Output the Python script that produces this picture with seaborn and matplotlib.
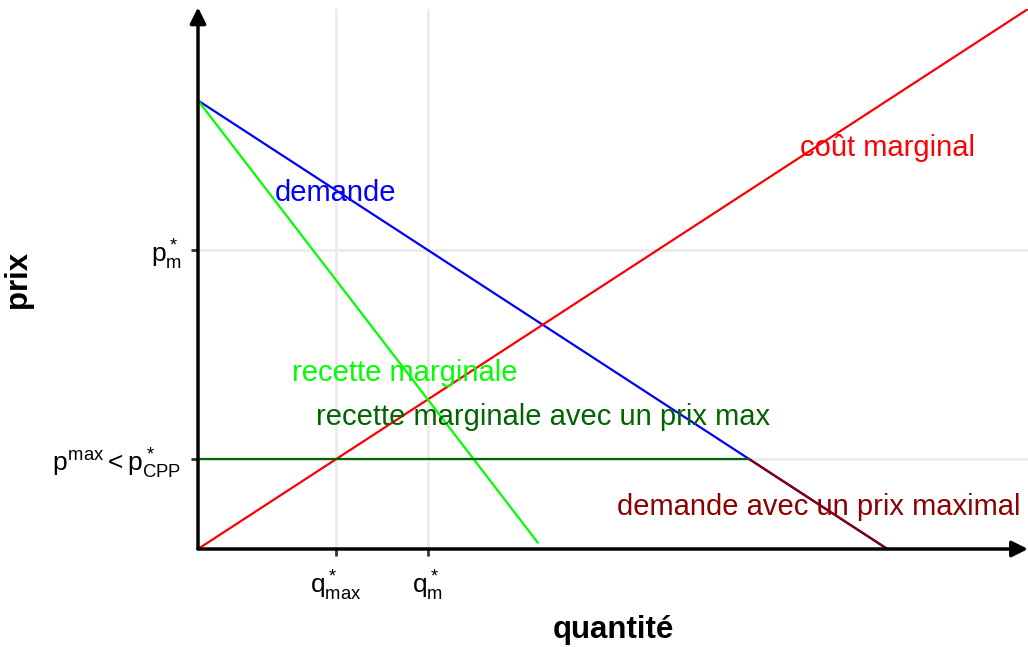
import pandas as pd
import matplotlib.pyplot as plt
import seaborn as sns
import numpy as np

# curves of the diagram (quantite, prix)
demand_q = [0, 10]
demand_p = [10, 0]
mr_q = [0, 4.93]
mr_p = [10, 0.14]
mc_q = [0, 12.04]
mc_p = [0, 12.04]
pmax_q = [0, 8]
pmax_p = [2, 2]
dmax_q = [8, 10]
dmax_p = [2, 0]

# tick positions / labels
x_ticks = [2, 10 / 3]
x_labels = [r'$q^*_{max}$', r'$q^*_m$']
y_ticks = [2, 20 / 3]
y_labels = [r'$p^{max} < p^*_{CPP}$', r'$p^*_m$']

# text labels
labels = ['demande', 'recette marginale', 'coût marginal',
          'recette marginale avec un prix max', 'demande avec un prix maximal']
label_q = [2, 3, 10, 5, 9]
label_p = [8, 4, 9, 3, 1]
label_col = ['#0000FF', '#00FF00', '#FF0000', '#006400', '#8B0000']

sns.set_theme(style='white')
plt.rcParams['font.family'] = ['Liberation Sans', 'DejaVu Sans']
plt.rcParams['mathtext.fontset'] = 'custom'
plt.rcParams['mathtext.rm'] = 'Liberation Sans'
plt.rcParams['mathtext.it'] = 'Liberation Sans'
plt.rcParams['mathtext.bf'] = 'Liberation Sans:bold'

fig = plt.figure(figsize=(10.28, 6.47), dpi=100)
ax = fig.add_axes([198 / 1028, 1 - 549 / 647, 830 / 1028, 540 / 647])

curves = [
    (demand_q, demand_p, '#0000FF'),
    (mc_q, mc_p, '#FF0000'),
    (mr_q, mr_p, '#00FF00'),
    (pmax_q, pmax_p, '#006400'),
    (dmax_q, dmax_p, '#8B0000'),
]
for q, p, c in curves:
    df = pd.DataFrame({'q': q, 'p': p})
    sns.lineplot(data=df, x='q', y='p', color=c, lw=1.6, ax=ax, zorder=3)

for t, q, p, c in zip(labels, label_q, label_p, label_col):
    ax.text(q, p, t, color=c, fontsize=21, ha='center', va='center_baseline',
            zorder=4)

ax.set_xlim(0, 12.04)
ax.set_ylim(0, 12.04)
ax.set_xticks(x_ticks)
ax.set_xticklabels(x_labels)
ax.set_yticks(y_ticks)
ax.set_yticklabels(y_labels)
ax.grid(True, color='#EBEBEB', lw=2)
ax.set_axisbelow(True)
ax.tick_params(axis='both', length=5, width=2, color='#333333',
               labelsize=19, labelcolor='black', pad=7, bottom=True, left=True)
ax.tick_params(axis='x', pad=9)

for s in ax.spines.values():
    s.set_visible(False)

# axes with arrows
arrow = dict(arrowstyle='-|>', lw=2.5, color='black', mutation_scale=24,
             shrinkA=0, shrinkB=0)
ax.annotate('', xy=(1, 0), xytext=(0, 0), xycoords='axes fraction',
            arrowprops=arrow, annotation_clip=False)
ax.annotate('', xy=(0, 1.003), xytext=(0, 0), xycoords='axes fraction',
            arrowprops=arrow, annotation_clip=False)

ax.set_xlabel('quantité', fontsize=22.5, fontweight='bold', color='black')
ax.set_ylabel('prix', fontsize=22.5, fontweight='bold', color='black')
ax.xaxis.set_label_coords(0.5, (549 - 630) / 540)
ax.yaxis.set_label_coords((18 - 198) / 830, 0.5)
ax.xaxis.label.set_va('center')
ax.yaxis.label.set_va('center')

fig.savefig('out.png', dpi=100)
